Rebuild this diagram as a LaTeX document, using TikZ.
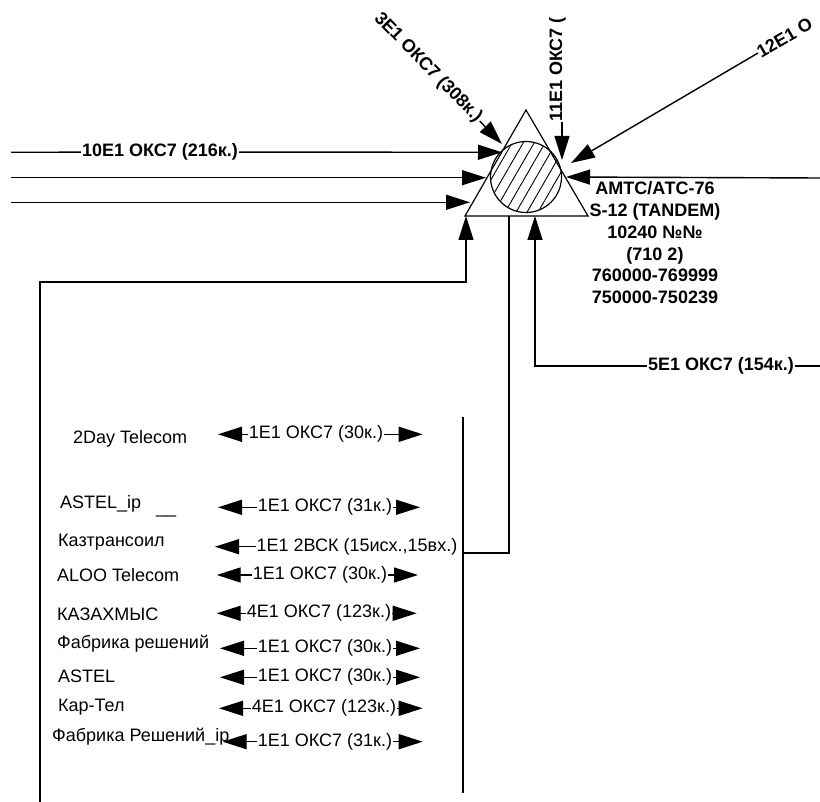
\documentclass[tikz,border=0pt]{standalone}
\usepackage{fontspec}
\setmainfont{Liberation Sans}
\usetikzlibrary{arrows.meta,patterns.meta}
\newcommand\fnorm{\fontsize{18}{21}\selectfont}
\newcommand\fbld{\fontsize{18}{21.8}\selectfont\bfseries}
\tikzset{
  ln/.style={line width=1.4pt, black},
  arr/.style={ln, -{Triangle[length=24pt,width=15pt]}},
  lab/.style={fill=white, inner sep=1pt, font=\fnorm},
  blab/.style={fill=white, inner sep=1pt, font=\fbld},
  nm/.style={inner sep=0pt, font=\fnorm, anchor=base west},
}
\begin{document}
\begin{tikzpicture}[x=1pt,y=-1pt]
\useasboundingbox (0,0) rectangle (820,802);
% ---- exchange symbol
\coordinate (apex) at (526,110);
\coordinate (bL) at (465,216);
\coordinate (bR) at (588,216);
\draw[ln, line width=1.2pt] (apex) -- (bR) -- (bL) -- cycle;
\node[circle, draw, line width=1.2pt, minimum size=71pt, inner sep=0pt,
      pattern={Lines[angle=60,distance=9.5pt,line width=0.9pt]}] (sw) at (526,177) {};
% ---- left incoming lines
\coordinate (s10) at (11,152.3); \coordinate (tip10) at (502,152.3);
\node[blab] (t10) at (160,152) {10E1 ОКС7 (216к.)};
\draw[ln] (s10) -- (t10);
\draw[arr] (t10) -- (tip10);
\coordinate (s2) at (11,177.7); \coordinate (tip2) at (486,177.7);
\draw[arr] (s2) -- (tip2);
\coordinate (s3) at (11,202.3); \coordinate (tip3) at (470,202.3);
\draw[arr] (s3) -- (tip3);
\coordinate (bl) at (40,802); \coordinate (tip4) at (466,216);
\draw[arr] (bl) |- (466,282) -- (tip4);
% ---- diagonal from upper left
\node[blab, rotate=-45.5] (t3e) at (428,68) {3E1 ОКС7 (308к.)};
\coordinate (tip3e) at (502,144);
\draw[arr] (t3e) -- (tip3e);
% ---- vertical from top
\coordinate (c11) at (562,122); \coordinate (tip11) at (562,160);
\node[inner sep=0pt, font=\fbld, rotate=90, anchor=base west] (t11) at (c11) {11E1 ОКС7 (};
\draw[arr] (c11) -- (tip11);
% ---- diagonal from upper right
\coordinate (c12) at (758,53); \coordinate (tip12) at (571,163);
\node[inner sep=0pt, font=\fbld, rotate=30, anchor=west] (t12) at (c12) {12E1 О};
\draw[arr] (c12) -- (tip12);
% ---- right incoming
\coordinate (eR) at (820,178); \coordinate (tipR) at (566,177);
\draw[arr] (eR) -- (tipR);
% ---- exchange label
\node[inner sep=0pt, font=\fbld, align=center, anchor=north] (amts) at (655,181.5)
  {АМТС/АТС-76\\S-12 (TANDEM)\\10240 №№\\(710 2)\\760000-769999\\750000-750239};
% ---- 5E1 from bottom right
\coordinate (e5) at (820,366); \coordinate (tip5) at (535,216);
\node[blab] (t5) at (721,366) {5E1 ОКС7 (154к.)};
\draw[ln] (t5) -- (e5);
\draw[arr] (t5) -| (tip5);
% ---- line down to the group
\coordinate (b509) at (509,216); \coordinate (kzr) at (463,553);
\draw[ln] (b509) |- (kzr);
\coordinate (bxt) at (463,417); \coordinate (bxb) at (463,793);
\draw[ln] (bxt) -- (bxb);
% ---- operator names
\node[nm] (n1) at (73,444) {2Day Telecom};
\node[nm] (n2) at (60,508) {ASTEL\_ip};
\node[nm] (n2u) at (156,513) {\_\_};
\node[nm] (n3) at (58,546) {Казтрансоил};
\node[nm] (n4) at (57,581) {ALOO Telecom};
\node[nm] (n5) at (57,620) {КАЗАХМЫС};
\node[nm] (n6) at (57,648) {Фабрика решений};
\node[nm] (n7) at (58,682) {ASTEL};
\node[nm] (n8) at (58,711) {Кар-Тел};
\node[nm] (n9) at (52,741) {Фабрика Решений\_ip};
% ---- links
\coordinate (l1) at (218,434.3); \coordinate (r1) at (422.7,434.3);
\node[lab] (a1) at (316,434.3) {1E1 ОКС7 (30к.)};
\draw[arr] (a1) -- (l1); \draw[arr] (a1) -- (r1);
\coordinate (l2) at (218,507.3); \coordinate (r2) at (420,507.3);
\node[lab] (a2) at (325,507.3) {1E1 ОКС7 (31к.)};
\draw[arr] (a2) -- (l2); \draw[arr] (a2) -- (r2);
\coordinate (l3) at (215,546.7);
\node[lab] (a3) at (357,546.7) {1E1 2ВСК (15исх.,15вх.)};
\draw[arr] (a3) -- (l3);
\coordinate (l4) at (216.7,575); \coordinate (r4) at (418,575);
\node[lab] (a4) at (320,575) {1E1 ОКС7 (30к.)};
\draw[arr] (a4) -- (l4); \draw[arr] (a4) -- (r4);
\coordinate (l5) at (216.7,613.3); \coordinate (r5) at (416.7,613.3);
\node[lab] (a5) at (319,613.3) {4E1 ОКС7 (123к.)};
\draw[arr] (a5) -- (l5); \draw[arr] (a5) -- (r5);
\coordinate (l6) at (220,648.3); \coordinate (r6) at (420,648.3);
\node[lab] (a6) at (325,648.3) {1E1 ОКС7 (30к.)};
\draw[arr] (a6) -- (l6); \draw[arr] (a6) -- (r6);
\coordinate (l7) at (220,677.3); \coordinate (r7) at (420,677.3);
\node[lab] (a7) at (325,677.3) {1E1 ОКС7 (30к.)};
\draw[arr] (a7) -- (l7); \draw[arr] (a7) -- (r7);
\coordinate (l8) at (219,708.3); \coordinate (r8) at (422.7,708.3);
\node[lab] (a8) at (324,708.3) {4E1 ОКС7 (123к.)};
\draw[arr] (a8) -- (l8); \draw[arr] (a8) -- (r8);
\coordinate (l9) at (222.7,741.7); \coordinate (r9) at (422.7,741.7);
\node[lab] (a9) at (325,741.7) {1E1 ОКС7 (31к.)};
\draw[arr] (a9) -- (l9); \draw[arr] (a9) -- (r9);
\end{tikzpicture}
\end{document}
